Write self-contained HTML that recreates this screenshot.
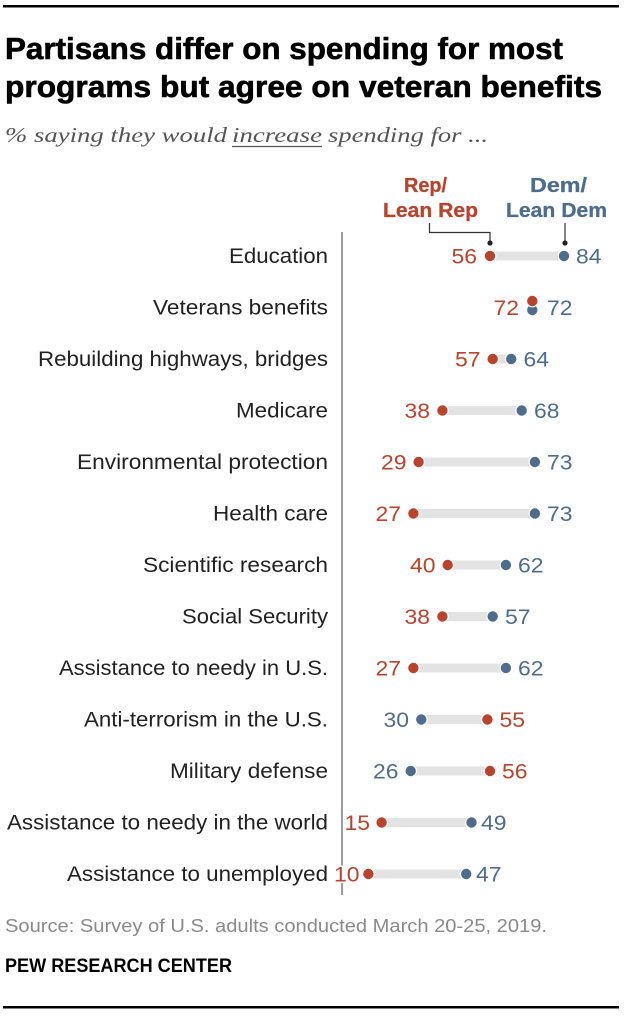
<!DOCTYPE html>
<html>
<head>
<meta charset="utf-8">
<style>
  html,body{margin:0;padding:0;background:#fff;}
  svg{display:block;}
  .cat{font-family:"Liberation Sans",sans-serif;font-size:21px;fill:#222;}
  .val{font-family:"Liberation Sans",sans-serif;font-size:21px;stroke:#fff;stroke-width:3px;paint-order:stroke;stroke-linejoin:round;}
  .r{fill:#b8432e;}
  .b{fill:#4f6d8b;}
</style>
</head>
<body>
<svg width="624" height="1016" viewBox="0 0 624 1016" xmlns="http://www.w3.org/2000/svg">
  <!-- top rule -->
  <rect x="3" y="5" width="616" height="2.5" fill="#000"/>

  <!-- title -->
  <g font-family="Liberation Sans, sans-serif" font-weight="bold" font-size="30.5" fill="#000" stroke="#000" stroke-width="0.6">
    <text x="5" y="59" textLength="558" lengthAdjust="spacingAndGlyphs">Partisans differ on spending for most</text>
    <text x="5" y="97" textLength="597" lengthAdjust="spacingAndGlyphs">programs but agree on veteran benefits</text>
  </g>

  <!-- subtitle -->
  <g font-family="Liberation Serif, serif" font-style="italic" font-size="21" fill="#555">
    <text x="5" y="142" textLength="222" lengthAdjust="spacingAndGlyphs">% saying they would</text>
    <text x="232" y="142" textLength="90" lengthAdjust="spacingAndGlyphs">increase</text>
    <text x="328" y="142" textLength="160" lengthAdjust="spacingAndGlyphs">spending for ...</text>
  </g>
  <line x1="232" y1="146.5" x2="322" y2="146.5" stroke="#555" stroke-width="1.2"/>

  <!-- legend -->
  <g font-family="Liberation Sans, sans-serif" font-weight="bold" font-size="20.5">
    <text x="404" y="192" class="r" stroke="#b8432e" stroke-width="0.3" textLength="43" lengthAdjust="spacingAndGlyphs">Rep/</text>
    <text x="383" y="217" class="r" stroke="#b8432e" stroke-width="0.3" textLength="95" lengthAdjust="spacingAndGlyphs">Lean Rep</text>
    <text x="530" y="192" class="b" stroke="#4f6d8b" stroke-width="0.3" textLength="57" lengthAdjust="spacingAndGlyphs">Dem/</text>
    <text x="506" y="217" class="b" stroke="#4f6d8b" stroke-width="0.3" textLength="101" lengthAdjust="spacingAndGlyphs">Lean Dem</text>
  </g>
  <path d="M429.5 223 V232.5 H490 V243" fill="none" stroke="#333" stroke-width="1.2"/>
  <circle cx="490" cy="243" r="2.6" fill="#222"/>
  <path d="M565 223 V243" fill="none" stroke="#333" stroke-width="1.2"/>
  <circle cx="565" cy="243" r="2.6" fill="#222"/>

  <!-- axis -->
  <line x1="342" y1="232" x2="342" y2="895" stroke="#666" stroke-width="1.3"/>

  <!-- category labels -->
  <g class="cat" text-anchor="end">
    <text x="328" y="263" textLength="99" lengthAdjust="spacingAndGlyphs">Education</text>
    <text x="328" y="314.5" textLength="175" lengthAdjust="spacingAndGlyphs">Veterans benefits</text>
    <text x="328" y="366" textLength="290" lengthAdjust="spacingAndGlyphs">Rebuilding highways, bridges</text>
    <text x="328" y="417.5" textLength="92" lengthAdjust="spacingAndGlyphs">Medicare</text>
    <text x="328" y="469" textLength="251" lengthAdjust="spacingAndGlyphs">Environmental protection</text>
    <text x="328" y="520.5" textLength="115" lengthAdjust="spacingAndGlyphs">Health care</text>
    <text x="328" y="572" textLength="185" lengthAdjust="spacingAndGlyphs">Scientific research</text>
    <text x="328" y="623.5" textLength="146" lengthAdjust="spacingAndGlyphs">Social Security</text>
    <text x="328" y="675" textLength="269" lengthAdjust="spacingAndGlyphs">Assistance to needy in U.S.</text>
    <text x="328" y="726.5" textLength="244" lengthAdjust="spacingAndGlyphs">Anti-terrorism in the U.S.</text>
    <text x="328" y="778" textLength="158" lengthAdjust="spacingAndGlyphs">Military defense</text>
    <text x="328" y="829.5" textLength="321" lengthAdjust="spacingAndGlyphs">Assistance to needy in the world</text>
    <text x="328" y="881" textLength="261" lengthAdjust="spacingAndGlyphs">Assistance to unemployed</text>
  </g>

  <!-- bars -->
  <g fill="#e3e3e3">
    <rect x="490" y="251.5" width="74" height="9"/>
    <rect x="492.7" y="354.5" width="18.5" height="9"/>
    <rect x="442.4" y="406" width="79.3" height="9"/>
    <rect x="418.6" y="457.5" width="116.3" height="9"/>
    <rect x="413.4" y="509" width="121.6" height="9"/>
    <rect x="447.7" y="560.5" width="58.2" height="9"/>
    <rect x="442.4" y="612" width="50.2" height="9"/>
    <rect x="413.4" y="663.5" width="92.5" height="9"/>
    <rect x="421.3" y="715" width="66.1" height="9"/>
    <rect x="410.7" y="766.5" width="79.3" height="9"/>
    <rect x="381.6" y="818" width="89.9" height="9"/>
    <rect x="368.4" y="869.5" width="97.8" height="9"/>
  </g>

  <g stroke="#fff" stroke-width="1.2">
    <circle cx="490" cy="256" r="5.8" class="r"/>
    <circle cx="564" cy="256" r="5.8" class="b"/>
    <circle cx="532.3" cy="310" r="5.8" class="b"/>
    <circle cx="532.3" cy="301" r="5.8" class="r"/>
    <circle cx="492.7" cy="359" r="5.8" class="r"/>
    <circle cx="511.2" cy="359" r="5.8" class="b"/>
    <circle cx="442.4" cy="410.5" r="5.8" class="r"/>
    <circle cx="521.7" cy="410.5" r="5.8" class="b"/>
    <circle cx="418.6" cy="462" r="5.8" class="r"/>
    <circle cx="534.9" cy="462" r="5.8" class="b"/>
    <circle cx="413.4" cy="513.5" r="5.8" class="r"/>
    <circle cx="534.9" cy="513.5" r="5.8" class="b"/>
    <circle cx="447.7" cy="565" r="5.8" class="r"/>
    <circle cx="505.9" cy="565" r="5.8" class="b"/>
    <circle cx="442.4" cy="616.5" r="5.8" class="r"/>
    <circle cx="492.7" cy="616.5" r="5.8" class="b"/>
    <circle cx="413.4" cy="668" r="5.8" class="r"/>
    <circle cx="505.9" cy="668" r="5.8" class="b"/>
    <circle cx="421.3" cy="719.5" r="5.8" class="b"/>
    <circle cx="487.4" cy="719.5" r="5.8" class="r"/>
    <circle cx="410.7" cy="771" r="5.8" class="b"/>
    <circle cx="490" cy="771" r="5.8" class="r"/>
    <circle cx="381.6" cy="822.5" r="5.8" class="r"/>
    <circle cx="471.5" cy="822.5" r="5.8" class="b"/>
    <circle cx="368.4" cy="874" r="5.8" class="r"/>
    <circle cx="466.2" cy="874" r="5.8" class="b"/>
  </g>

  <!-- value labels -->
  <g class="val">
    <text x="477" y="263.5" text-anchor="end" class="r" textLength="25.5" lengthAdjust="spacingAndGlyphs">56</text>
    <text x="576" y="263.5" class="b" textLength="25.5" lengthAdjust="spacingAndGlyphs">84</text>

    <text x="519" y="315" text-anchor="end" class="r" textLength="25.5" lengthAdjust="spacingAndGlyphs">72</text>
    <text x="547" y="315" class="b" textLength="25.5" lengthAdjust="spacingAndGlyphs">72</text>

    <text x="480.5" y="366.5" text-anchor="end" class="r" textLength="25.5" lengthAdjust="spacingAndGlyphs">57</text>
    <text x="523.5" y="366.5" class="b" textLength="25.5" lengthAdjust="spacingAndGlyphs">64</text>

    <text x="430" y="418" text-anchor="end" class="r" textLength="25.5" lengthAdjust="spacingAndGlyphs">38</text>
    <text x="534" y="418" class="b" textLength="25.5" lengthAdjust="spacingAndGlyphs">68</text>

    <text x="406.5" y="469.5" text-anchor="end" class="r" textLength="25.5" lengthAdjust="spacingAndGlyphs">29</text>
    <text x="547" y="469.5" class="b" textLength="25.5" lengthAdjust="spacingAndGlyphs">73</text>

    <text x="401" y="521" text-anchor="end" class="r" textLength="25.5" lengthAdjust="spacingAndGlyphs">27</text>
    <text x="547" y="521" class="b" textLength="25.5" lengthAdjust="spacingAndGlyphs">73</text>

    <text x="435.5" y="572.5" text-anchor="end" class="r" textLength="25.5" lengthAdjust="spacingAndGlyphs">40</text>
    <text x="518" y="572.5" class="b" textLength="25.5" lengthAdjust="spacingAndGlyphs">62</text>

    <text x="430" y="624" text-anchor="end" class="r" textLength="25.5" lengthAdjust="spacingAndGlyphs">38</text>
    <text x="505" y="624" class="b" textLength="25.5" lengthAdjust="spacingAndGlyphs">57</text>

    <text x="401" y="675.5" text-anchor="end" class="r" textLength="25.5" lengthAdjust="spacingAndGlyphs">27</text>
    <text x="518" y="675.5" class="b" textLength="25.5" lengthAdjust="spacingAndGlyphs">62</text>

    <text x="409" y="727" text-anchor="end" class="b" textLength="25.5" lengthAdjust="spacingAndGlyphs">30</text>
    <text x="499.5" y="727" class="r" textLength="25.5" lengthAdjust="spacingAndGlyphs">55</text>

    <text x="398.5" y="778.5" text-anchor="end" class="b" textLength="25.5" lengthAdjust="spacingAndGlyphs">26</text>
    <text x="502" y="778.5" class="r" textLength="25.5" lengthAdjust="spacingAndGlyphs">56</text>

    <text x="370" y="830" text-anchor="end" class="r" textLength="25.5" lengthAdjust="spacingAndGlyphs">15</text>
    <text x="481" y="830" class="b" textLength="25.5" lengthAdjust="spacingAndGlyphs">49</text>

    <text x="359.5" y="881.5" text-anchor="end" class="r" textLength="25.5" lengthAdjust="spacingAndGlyphs">10</text>
    <text x="476" y="881.5" class="b" textLength="25.5" lengthAdjust="spacingAndGlyphs">47</text>
  </g>

  <!-- footer -->
  <text x="5" y="932" font-family="Liberation Sans, sans-serif" font-size="18" fill="#8a8a8a" textLength="542" lengthAdjust="spacingAndGlyphs">Source: Survey of U.S. adults conducted March 20-25, 2019.</text>
  <text x="5" y="972" font-family="Liberation Sans, sans-serif" font-weight="bold" font-size="19" fill="#000" textLength="227" lengthAdjust="spacingAndGlyphs">PEW RESEARCH CENTER</text>

  <!-- bottom rule -->
  <rect x="3" y="1006" width="616" height="2.5" fill="#000"/>
</svg>
</body>
</html>
